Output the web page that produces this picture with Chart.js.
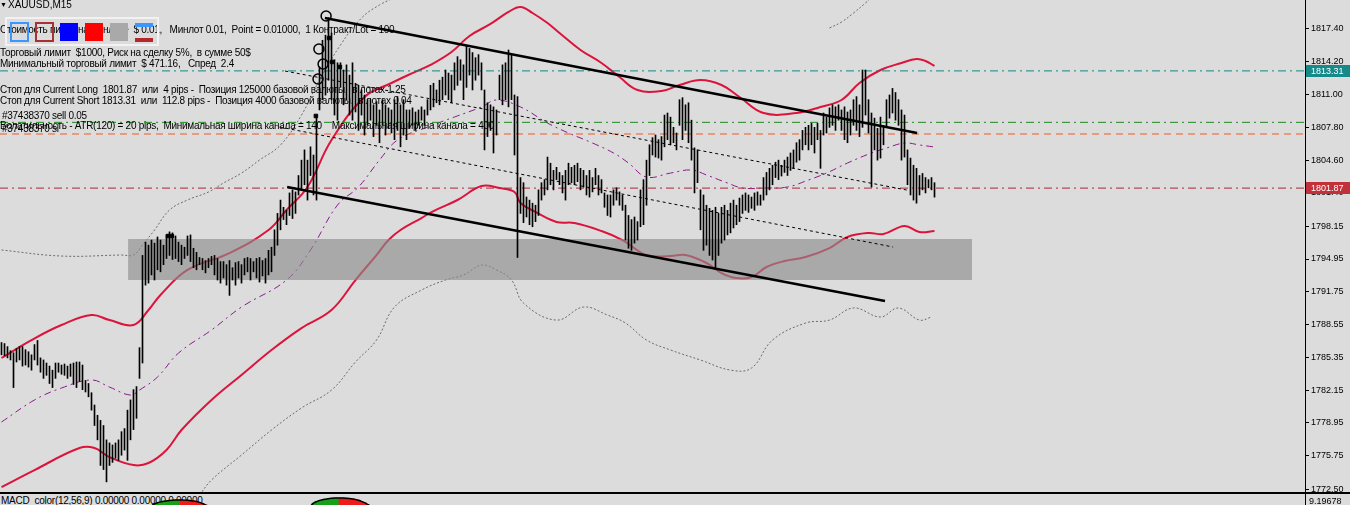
<!DOCTYPE html>
<html><head><meta charset="utf-8">
<script src="https://cdn.jsdelivr.net/npm/chart.js@4.4.1/dist/chart.umd.min.js"></script>
<style>
html,body{margin:0;padding:0;background:#dcdcdc;}
#wrap{position:relative;width:1350px;height:505px;overflow:hidden;background:#dcdcdc;font-family:"Liberation Sans",Arial,sans-serif;}
#main{position:absolute;left:0;top:0;z-index:1;}
.t{position:absolute;font-size:10px;line-height:12px;white-space:pre;color:#000;z-index:5;}
.n{letter-spacing:-0.28px;}
.b{position:absolute;box-sizing:border-box;z-index:6;}
#sep{position:absolute;left:0;top:492px;width:1350px;height:2px;background:#000;z-index:3;}
#macdwrap{position:absolute;left:0;top:494px;width:1350px;height:11px;overflow:hidden;z-index:2;}
#macd{position:absolute;left:0;top:0;z-index:2;}
</style></head>
<body>
<div id="wrap">
  <canvas id="main" width="1350" height="492"></canvas>
  <div id="sep"></div>
  <div id="macdwrap">
    <div class="t n" style="left:1px;top:1px;z-index:1">MACD_color(12,56,9) 0.00000 0.00000 0.00000</div>
    <canvas id="macd" width="1350" height="100"></canvas>
    <div class="t" style="left:1309px;top:1px;font-size:9px">9.19678</div>
  </div>

  <div class="t" style="left:0;top:-1px;font-size:7px">▼</div>
  <div class="t" style="left:8px;top:-1px">XAUUSD,M15</div>
  <div class="t n" style="left:0;top:24px">Стоимость пипса на минлоте  $ 0.01,   Минлот 0.01,  Point = 0.01000,  1 Контракт/Lot = 100</div>
  <div class="t n" style="left:0;top:47px">Торговый лимит  $1000, Риск на сделку 5%,  в сумме 50$</div>
  <div class="t n" style="left:0;top:58px">Минимальный торговый лимит  $ 471.16,   Спред  2.4</div>
  <div class="t n" style="left:0;top:84px">Стоп для Current Long  1801.87  или  4 pips -  Позиция 125000 базовой валюты,  в лотах 1.25</div>
  <div class="t n" style="left:0;top:95px">Стоп для Current Short 1813.31  или  112.8 pips -  Позиция 4000 базовой валюты,  в лотах 0.04</div>
  <div class="t n" style="left:2px;top:110px">#37438370 sell 0.05</div>
  <div class="t n" style="left:0;top:120px">Волатильность - ATR(120) = 20 pips,  Минимальная ширина канала = 140    Максимальная ширина канала = 400</div>
  <div class="t n" style="left:2px;top:123px">#37438370 sl</div>

  <div class="b" style="left:5px;top:17px;width:154px;height:29px;border:2px solid #f2f2f2"></div>
  <div class="b" style="left:10px;top:22px;width:19px;height:20px;border:2px solid #3c96ff"></div>
  <div class="b" style="left:35px;top:22px;width:19px;height:20px;border:2px solid #a83232"></div>
  <div class="b" style="left:60px;top:23px;width:18px;height:18px;background:#0000ff"></div>
  <div class="b" style="left:85px;top:23px;width:18px;height:18px;background:#ff0000"></div>
  <div class="b" style="left:110px;top:23px;width:18px;height:18px;background:#a9a9a9"></div>
  <div class="b" style="left:135px;top:23px;width:18px;height:4px;background:#3c96ff"></div>
  <div class="b" style="left:135px;top:38px;width:18px;height:4px;background:#b4282c"></div>
</div>
<script>
// ---------- DATA ----------
const yTicks = [1817.40,1814.20,1811.00,1807.80,1804.60,1801.40,1798.15,1794.95,1791.75,1788.55,1785.35,1782.15,1778.95,1775.75,1772.50];
const yMin = 1772.21, yMax = 1820.23;

const barHigh = [
1786.8,1786.7,1786.4,1786.0,1785.8,1786.2,1786.4,1786.4,1786.1,1785.9,
1785.6,1786.6,1787.0,1785.3,1785.1,1784.8,1784.5,1784.1,1784.8,1784.8,
1784.6,1784.7,1784.5,1784.7,1784.8,1784.9,1784.9,1784.6,1783.1,1782.8,
1781.9,1780.7,1779.7,1779.2,1778.7,1777.3,1777.0,1776.8,1777.0,1777.3,
1778.1,1778.4,1780.2,1781.2,1782.2,1782.5,1786.3,1795.3,1796.6,1796.3,
1796.8,1796.5,1797.1,1796.8,1796.3,1797.3,1797.6,1797.5,1797.2,1796.6,
1796.3,1796.1,1797.2,1797.3,1796.0,1795.6,1795.1,1795.0,1794.8,1795.0,
1795.2,1795.3,1795.0,1794.7,1794.7,1794.4,1794.8,1794.1,1794.6,1794.7,
1794.4,1795.0,1795.1,1795.0,1794.7,1795.0,1795.1,1794.8,1795.0,1795.8,
1796.1,1797.8,1799.4,1800.7,1800.0,1799.7,1801.4,1801.7,1801.5,1803.1,
1804.6,1805.6,1804.6,1805.9,1805.1,1809.0,1813.7,1816.3,1816.8,1818.5,
1817.0,1814.4,1814.1,1814.1,1813.4,1813.9,1812.9,1814.1,1812.1,1811.9,
1811.45,1810.96,1810.5,1810.5,1810.0,1810.3,1809.5,1810.5,1810.0,1809.7,
1809.5,1810.5,1810.8,1810.0,1810.5,1809.5,1809.5,1809.7,1809.3,1809.5,
1809.8,1809.5,1810.5,1811.9,1812.1,1811.45,1812.4,1812.7,1813.4,1813.1,
1812.9,1814.1,1814.7,1814.4,1813.9,1815.8,1815.5,1815.1,1814.6,1814.9,
1814.1,1811.45,1810.2,1810.0,1809.8,1809.5,1812.9,1813.9,1814.1,1815.35,
1814.9,1810.96,1810.8,1802.9,1802.4,1801.0,1800.7,1800.4,1800.2,1801.7,
1802.4,1802.7,1804.9,1804.3,1803.6,1803.9,1803.4,1803.1,1803.6,1804.3,
1803.9,1804.1,1804.3,1803.8,1803.6,1803.1,1803.6,1802.9,1803.8,1803.1,
1802.7,1801.4,1801.2,1801.2,1801.7,1801.9,1801.5,1801.2,1800.2,1799.2,
1798.8,1799.05,1798.6,1801.7,1802.7,1804.6,1806.1,1806.8,1807.05,1806.6,
1806.9,1809.0,1809.2,1808.8,1807.8,1807.25,1810.5,1810.7,1810.0,1810.2,
1808.5,1805.8,1805.6,1801.7,1801.2,1800.2,1799.9,1799.7,1800.0,1799.4,
1800.0,1800.2,1799.7,1800.4,1800.7,1800.2,1800.9,1801.2,1801.4,1801.2,
1801.0,1801.4,1801.5,1801.2,1802.9,1803.4,1803.8,1804.1,1804.4,1804.6,
1804.1,1804.6,1804.9,1805.3,1805.6,1806.3,1806.6,1807.5,1807.8,1808.0,
1808.2,1807.8,1808.2,1807.5,1809.2,1808.8,1809.7,1810.0,1809.8,1810.0,
1809.5,1809.8,1809.3,1809.5,1810.5,1810.8,1810.0,1813.4,1813.4,1810.5,
1809.2,1808.7,1807.7,1808.8,1808.0,1810.5,1810.96,1811.6,1811.2,1810.5,
1809.5,1809.0,1805.6,1804.8,1804.1,1803.8,1803.1,1803.3,1802.9,1802.7,1802.9,1802.4];

const barLow = [
1785.6,1785.5,1785.3,1785.1,1782.4,1784.9,1785.1,1784.5,1784.6,1784.4,
1784.1,1785.1,1784.6,1783.9,1783.3,1783.6,1782.8,1782.4,1783.3,1783.9,
1783.7,1783.6,1783.3,1783.5,1782.7,1782.4,1783.0,1782.2,1781.97,1781.5,
1780.2,1778.7,1777.3,1774.8,1774.4,1773.2,1774.8,1775.1,1775.5,1775.3,
1775.8,1776.3,1775.3,1777.3,1778.3,1779.4,1783.3,1784.8,1792.4,1792.6,
1793.4,1792.9,1793.9,1793.7,1794.4,1795.0,1795.3,1794.9,1795.0,1794.7,
1794.4,1795.0,1795.3,1794.7,1794.1,1793.9,1794.4,1793.9,1793.6,1794.1,
1794.4,1793.4,1792.9,1792.6,1793.1,1792.4,1791.4,1792.9,1792.4,1793.1,
1792.6,1793.4,1793.7,1792.9,1793.7,1793.1,1792.7,1793.3,1792.6,1793.4,
1793.7,1795.3,1796.3,1797.8,1798.8,1798.3,1799.2,1798.9,1799.4,1801.2,
1801.7,1802.2,1800.7,1803.1,1801.2,1800.7,1809.5,1810.5,1810.95,1812.4,
1810.5,1809.0,1808.5,1811.7,1810.0,1810.5,1809.0,1808.5,1809.3,1807.5,
1809.0,1807.05,1808.0,1808.5,1806.9,1808.0,1806.3,1808.0,1807.05,1807.7,
1807.25,1806.6,1807.5,1805.9,1807.05,1806.6,1807.7,1808.0,1807.5,1808.0,
1808.5,1808.0,1809.0,1809.5,1809.8,1810.2,1810.0,1810.5,1810.96,1810.5,
1810.2,1811.45,1811.9,1812.4,1810.5,1811.7,1812.9,1811.45,1812.4,1812.9,
1811.45,1805.6,1806.9,1807.5,1805.3,1807.05,1810.5,1810.0,1810.5,1809.8,
1810.5,1805.1,1795.1,1799.4,1798.5,1799.05,1798.3,1798.1,1798.6,1799.2,
1800.7,1801.2,1801.7,1802.2,1801.7,1802.7,1802.2,1801.4,1800.7,1802.2,
1802.4,1802.2,1802.5,1801.7,1801.97,1801.2,1800.99,1801.5,1802.2,1801.2,
1801.4,1800.0,1799.2,1799.05,1800.2,1800.7,1800.2,1799.7,1796.8,1796.0,
1795.8,1796.5,1796.8,1798.1,1798.3,1800.2,1803.1,1805.1,1804.9,1804.8,
1804.6,1805.9,1806.6,1806.1,1806.3,1805.6,1808.0,1806.6,1807.5,1806.3,
1804.6,1801.4,1802.4,1797.8,1795.8,1796.3,1795.3,1794.85,1794.1,1795.3,
1796.5,1796.8,1797.3,1797.5,1797.98,1798.3,1798.6,1799.4,1799.7,1799.5,
1799.9,1799.7,1800.2,1800.2,1800.7,1801.2,1801.7,1802.2,1802.9,1802.7,
1803.05,1803.4,1803.1,1803.6,1803.8,1804.4,1804.6,1805.6,1806.1,1805.6,
1806.1,1805.3,1806.6,1803.8,1807.05,1807.25,1807.8,1808.0,1807.5,1808.5,
1807.5,1806.6,1806.3,1807.05,1808.0,1807.5,1806.9,1807.8,1809.0,1807.25,
1801.97,1805.6,1804.6,1804.8,1806.1,1807.8,1808.7,1809.2,1808.5,1808.0,
1804.6,1804.9,1802.2,1801.2,1800.7,1800.4,1801.2,1801.7,1801.4,1801.9,1801.7,1800.99];

// Envelope / band indicators (bar index, price)
const upperIdx = [0,10,20,30,36,44,49,53,62,76,89,95,102,110,121,130,137,143,150,156,163,169,173,177,182,186,193,200,206,212,220,226,233,240,246,254,265,273,280,286,293,300,305,308,311];
const upperVal = [1785.29,1787.04,1788.51,1789.48,1788.99,1788.51,1789.97,1791.44,1793.88,1795.53,1797.78,1799.73,1801.98,1806.56,1810.76,1812.13,1813.10,1813.89,1815.15,1816.72,1817.89,1819.06,1819.55,1818.96,1817.98,1817.01,1815.35,1814.08,1812.71,1811.45,1811.35,1811.93,1812.42,1811.93,1810.76,1809.20,1809.20,1809.79,1810.47,1812.13,1813.40,1814.08,1814.47,1814.28,1813.79];
const lowerIdx = [0,11,26,31,36,44,49,55,60,70,80,90,100,110,118,125,129,133,140,144,152,160,166,171,173,178,185,191,200,207,215,223,228,235,240,245,250,255,261,268,276,282,289,294,301,306,311];
const lowerVal = [1772.69,1774.35,1776.50,1776.50,1775.62,1774.84,1775.04,1776.31,1778.26,1781.19,1783.63,1786.07,1788.21,1789.97,1792.90,1795.34,1796.80,1797.78,1798.95,1799.63,1800.71,1802.07,1801.88,1801.49,1800.42,1799.54,1798.56,1798.46,1797.68,1796.80,1795.34,1795.24,1795.34,1794.56,1793.58,1793.09,1793.19,1794.17,1794.75,1795.14,1796.02,1797.10,1797.49,1797.39,1798.17,1797.58,1797.68];
const maIdx = [0,11,20,30,36,43,46,52,59,70,80,95,103,112,119,126,132,142,151,160,165,173,182,189,197,204,209,215,223,230,235,242,247,255,262,269,275,282,290,295,301,306,311];
const maVal = [1779.04,1781.19,1782.36,1783.14,1782.45,1781.67,1782.16,1783.43,1785.77,1788.02,1790.26,1792.90,1795.83,1800.22,1801.98,1804.61,1806.56,1807.83,1808.81,1809.79,1810.47,1809.79,1808.22,1807.25,1806.27,1805.30,1804.32,1802.95,1803.34,1803.64,1803.15,1802.37,1801.88,1801.88,1801.98,1802.66,1803.34,1804.32,1805.30,1805.78,1806.27,1806.08,1805.88];
const outerUpIdxA = [0,20,40,44,47,51,56,62,69,74,80,86,93,100,106,113,120,126,133];
const outerUpValA = [1795.83,1795.24,1795.34,1795.34,1796.32,1797.78,1799.73,1800.71,1801.49,1802.37,1803.34,1804.61,1806.08,1809.00,1812.42,1815.84,1818.47,1819.74,1820.72];
const outerUpIdxB = [276,280,284,288,291];
const outerUpValB = [1817.50,1818.08,1818.96,1819.94,1820.72];
const outerLoIdx = [66,70,80,90,100,110,118,125,131,140,148,154,160,165,170,174,185,194,202,208,215,223,233,243,250,257,268,276,284,293,299,306,310];
const outerLoVal = [1771.91,1773.38,1775.82,1778.26,1780.41,1782.16,1784.90,1787.04,1790.26,1791.92,1792.90,1793.39,1794.36,1793.88,1792.90,1790.65,1788.99,1790.26,1789.48,1788.70,1787.04,1786.07,1785.09,1784.11,1784.31,1787.04,1788.70,1788.99,1790.17,1789.29,1790.17,1788.99,1789.29];

// Horizontal levels
const levelTeal = 1813.31, levelGreen = 1808.29, levelOrange = 1807.15, levelDarkRed = 1801.87;
// Support zone rectangle
const zoneX = [42.2, 323.5], zoneHi = 1796.90, zoneLo = 1792.90;
// Channel trend lines [idx0, price0, idx1, price1]
const trendUpper = [107.8, 1818.47, 305.2, 1807.25];
const trendLower = [95.2, 1801.98, 294.5, 1790.85];
const midA = [94.5, 1813.30, 301.8, 1801.68];
const midB = [92.8, 1807.83, 297.2, 1796.12];
// Order markers
const circIdx = [108.2, 105.8, 107.2, 105.5];
const circVal = [1818.67, 1815.45, 1813.98, 1812.52];
const sqIdx = [109.2, 110.2, 112.8, 104.8, 55.5, 56.8];
const sqVal = [1816.52, 1814.18, 1813.69, 1808.91, 1797.19, 1797.19];
// MACD histogram (sub window, only top visible)
const macdIdxA = [50,51,52,53,54,55,56,57,58,59,60,61,62,63,64,65,66,67,68,69];
const macdValA = [7.0,7.4,7.6,7.75,7.85,7.93,8.0,8.05,8.08,8.09,8.09,8.07,8.03,7.97,7.9,7.8,7.65,7.45,7.2,6.9];
const macdIdxB = [103,104,105,106,107,108,109,110,111,112,113,114,115,116,117,118,119,120,121,122,123];
const macdValB = [7.0,7.5,7.8,8.0,8.15,8.25,8.33,8.4,8.44,8.46,8.46,8.45,8.42,8.37,8.3,8.2,8.05,7.85,7.6,7.3,6.9];
const macdMax = 9.19678;

// ---------- CHART ----------
Chart.defaults.font.family = '"Liberation Sans", Arial, sans-serif';
const pts = (xs, ys) => xs.map((x, i) => ({x, y: ys[i]}));
const seg = a => [{x: a[0], y: a[1]}, {x: a[2], y: a[3]}];
const hline = v => [{x: -0.5, y: v}, {x: 434.5, y: v}];
const lineDs = (data, color, width, dash, order, extra) => Object.assign({
  type: 'line', data, borderColor: color, borderWidth: width, borderDash: dash || [],
  pointRadius: 0, tension: 0, fill: false, order
}, extra || {});

const priceTags = [{v: levelTeal, bg: '#168a8a'}, {v: levelDarkRed, bg: '#c3303a'}];

new Chart(document.getElementById('main'), {
  type: 'line',
  data: {datasets: [
    lineDs(pts(upperIdx, upperVal), '#dc143c', 2, null, 30, {tension: 0.4}),
    lineDs(pts(lowerIdx, lowerVal), '#dc143c', 2, null, 30, {tension: 0.4}),
    lineDs(pts(maIdx, maVal), '#8a1a8a', 1, [7, 4, 2, 4], 30, {tension: 0.4}),
    lineDs(pts(outerUpIdxA, outerUpValA), '#6a6a6a', 1, [2, 2], 30, {tension: 0.4}),
    lineDs(pts(outerUpIdxB, outerUpValB), '#6a6a6a', 1, [2, 2], 30, {tension: 0.4}),
    lineDs(pts(outerLoIdx, outerLoVal), '#6a6a6a', 1, [2, 2], 30, {tension: 0.4}),
    lineDs([{x: zoneX[0], y: zoneLo}, {x: zoneX[1], y: zoneLo}], 'rgba(0,0,0,0)', 0, null, 20),
    lineDs([{x: zoneX[0], y: zoneHi}, {x: zoneX[1], y: zoneHi}], 'rgba(0,0,0,0)', 0, null, 20,
      {fill: '-1', backgroundColor: 'rgba(140,140,140,0.63)'}),
    lineDs(hline(levelTeal), '#138585', 1, [8, 4, 2, 4], 15),
    lineDs(hline(levelGreen), '#1e8a1e', 1, [8, 4, 2, 4], 15),
    lineDs(hline(levelOrange), '#ec5a22', 1, [7, 5], 15),
    lineDs(hline(levelDarkRed), '#a82a3c', 1, [8, 4, 2, 4], 15),
    {type: 'bar', data: barHigh.map((h, i) => ({x: i, y: [barLow[i], h]})),
     backgroundColor: '#000', borderWidth: 0, barThickness: 1, grouped: false, order: 10},
    lineDs(seg(midA), '#000', 1, [3, 3], 5),
    lineDs(seg(midB), '#000', 1, [3, 3], 5),
    lineDs(seg(trendUpper), '#000', 2.5, null, 4),
    lineDs(seg(trendLower), '#000', 2.5, null, 4),
    {type: 'line', data: pts(circIdx, circVal), showLine: false, pointStyle: 'circle', pointRadius: 5,
     pointBorderColor: '#000', pointBackgroundColor: 'rgba(0,0,0,0)', pointBorderWidth: 1.5, order: 1},
    {type: 'line', data: pts(sqIdx, sqVal), showLine: false, pointStyle: 'rect', pointRadius: 2.5,
     pointBorderColor: '#000', pointBackgroundColor: '#000', pointBorderWidth: 1, order: 1}
  ]},
  options: {
    responsive: false, animation: false, devicePixelRatio: 1,
    layout: {padding: 0, autoPadding: false},
    plugins: {legend: {display: false}, tooltip: {enabled: false}},
    scales: {
      x: {type: 'linear', min: -0.5, max: 434.5, display: false, offset: false},
      y: {
        position: 'right', min: yMin, max: yMax,
        afterFit(s) { s.width = 45; s.paddingTop = 0; s.paddingBottom = 0; },
        afterBuildTicks(s) { s.ticks = yTicks.map(v => ({value: v})); },
        ticks: {callback: v => Number(v).toFixed(2), font: {size: 9}, color: '#000', padding: 2, autoSkip: false, maxRotation: 0},
        grid: {drawOnChartArea: false, drawTicks: true, tickLength: 4, color: '#000'},
        border: {display: true, color: '#000', width: 1}
      }
    }
  },
  plugins: [{
    id: 'priceTags',
    afterDraw(c) {
      const y = c.scales.y, ctx = c.ctx;
      ctx.save();
      priceTags.forEach(t => {
        const py = Math.round(y.getPixelForValue(t.v));
        ctx.fillStyle = t.bg;
        ctx.fillRect(y.left + 1, py - 6, y.width - 1, 12);
        ctx.fillStyle = '#fff';
        ctx.font = '9px "Liberation Sans", Arial, sans-serif';
        ctx.textBaseline = 'middle';
        ctx.fillText(t.v.toFixed(2), y.left + 6, py + 0.5);
      });
      ctx.restore();
    }
  }]
});

// MACD sub-window
const macdAll = pts(macdIdxA, macdValA).concat(pts(macdIdxB, macdValB));
const macdColors = macdAll.map((p, i) => (i > 0 && p.y > macdAll[i - 1].y && p.x === macdAll[i - 1].x + 1) ? '#16a016' : '#ee1c1c');
new Chart(document.getElementById('macd'), {
  type: 'bar',
  data: {datasets: [
    lineDs(pts(macdIdxA, macdValA), '#000', 1.5, null, 1, {tension: 0.4}),
    lineDs(pts(macdIdxB, macdValB), '#000', 1.5, null, 1, {tension: 0.4}),
    {type: 'bar', data: macdAll, backgroundColor: macdColors, borderWidth: 0, barThickness: 3, grouped: false, order: 2}
  ]},
  options: {
    responsive: false, animation: false, devicePixelRatio: 1,
    layout: {padding: 0, autoPadding: false},
    plugins: {legend: {display: false}, tooltip: {enabled: false}},
    scales: {
      x: {type: 'linear', min: -0.5, max: 434.5, display: false, offset: false},
      y: {position: 'right', min: -macdMax, max: macdMax,
          afterFit(s) { s.width = 45; s.paddingTop = 0; s.paddingBottom = 0; },
          ticks: {display: false}, grid: {display: false},
          border: {display: true, color: '#000', width: 1}}
    }
  }
});
</script>
</body></html>
